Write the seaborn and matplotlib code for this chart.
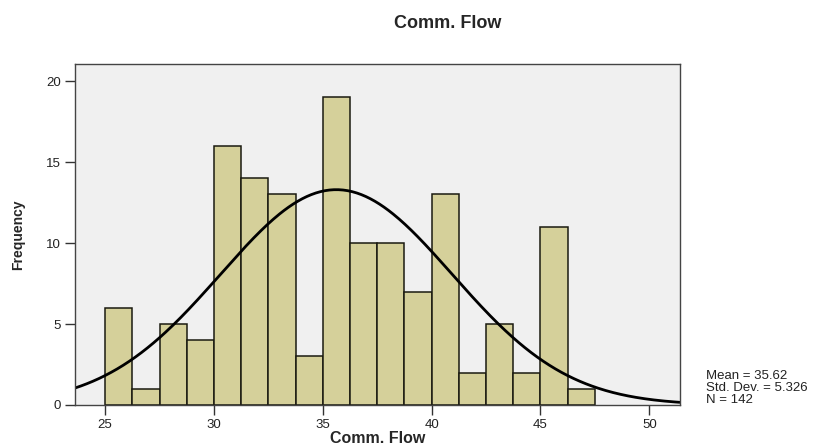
import numpy as np
import pandas as pd
import matplotlib
matplotlib.use("Agg")
import matplotlib.pyplot as plt
import seaborn as sns

# Data
bin_edges = [25 + 1.25 * i for i in range(19)]
counts = [6, 1, 5, 4, 16, 14, 13, 3, 19, 10, 10, 7, 13, 2, 5, 2, 11, 1]
mean_val = 35.62
std_val = 5.326
n_val = 142
x_ticks = [25, 30, 35, 40, 45, 50]
y_ticks = [0, 5, 10, 15, 20]

centers = [(bin_edges[i] + bin_edges[i + 1]) / 2 for i in range(len(counts))]
df = pd.DataFrame({"x": centers, "w": counts})

sns.set_theme(style="white")
plt.rcParams["font.family"] = ["Liberation Sans", "DejaVu Sans"]

fig = plt.figure(figsize=(8.3, 4.48), dpi=100)
fig.patch.set_facecolor("white")
ax = fig.add_axes([0.090, 0.096, 0.729, 0.761])
ax.set_facecolor("#F0F0F0")

sns.histplot(data=df, x="x", weights="w", bins=bin_edges, stat="count",
             color="#D5D09A", edgecolor="#1a1a10", linewidth=1.1, alpha=1.0, ax=ax)

xs = np.linspace(23.6, 51.4, 400)
bw = bin_edges[1] - bin_edges[0]
ys = n_val * bw / (std_val * np.sqrt(2 * np.pi)) * np.exp(-0.5 * ((xs - mean_val) / std_val) ** 2)
ax.plot(xs, ys, color="black", linewidth=2.0)

ax.set_xlim(23.6, 51.4)
ax.set_ylim(0, 21.05)
ax.set_xticks(x_ticks)
ax.set_yticks(y_ticks)
ax.tick_params(axis="both", which="both", direction="out", length=7, width=1,
               color="#333333", labelsize=9.5, labelcolor="#222222", pad=3)
ax.tick_params(axis="x", bottom=True)
ax.tick_params(axis="y", left=True)
for s in ax.spines.values():
    s.set_visible(True)
    s.set_color("#444444")
    s.set_linewidth(1.0)

ax.set_xlabel("Comm. Flow", fontsize=11.5, fontweight="bold")
ax.xaxis.set_label_coords(0.5, -0.076)
ax.set_ylabel("Frequency", fontsize=10, fontweight="bold")
ax.yaxis.set_label_coords(-0.082, 0.5)
fig.text(0.539, 0.947, "Comm. Flow", ha="center", va="center", fontsize=13, fontweight="bold")

fig.text(0.851, 0.134, "Mean = 35.62\nStd. Dev. = 5.326\nN = 142", ha="left", va="center",
         fontsize=9.5, color="#222222", linespacing=0.95)

fig.savefig("out.png", dpi=100)
